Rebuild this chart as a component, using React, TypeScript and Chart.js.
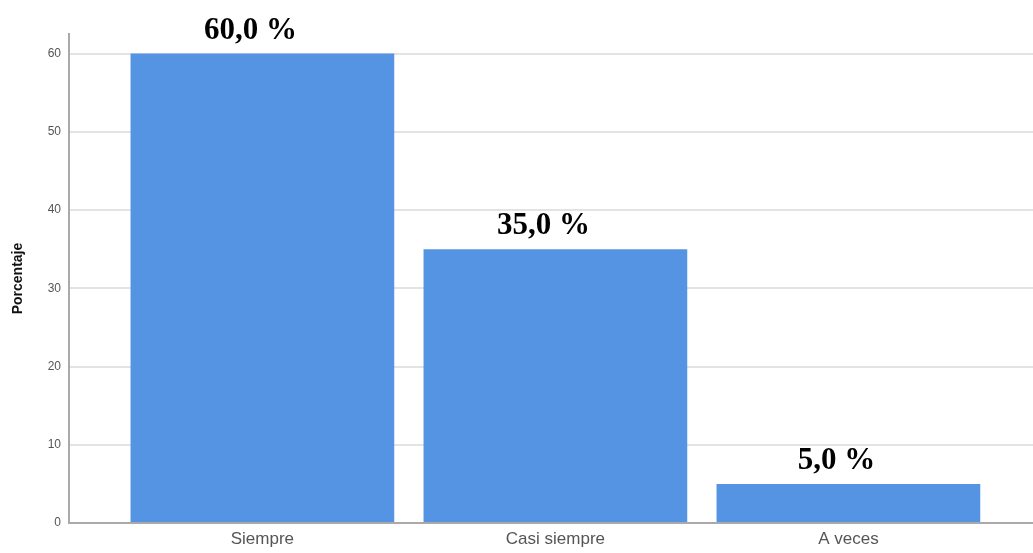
import React, { useEffect, useRef } from "react";
import { Chart, registerables } from "chart.js";

Chart.register(...registerables);

const categories = ["Siempre", "Casi siempre", "A veces"];
const percentages = [60, 35, 5];
const valueLabels = ["60,0 %", "35,0 %", "5,0 %"];
const yTicks = [0, 10, 20, 30, 40, 50, 60];

const labelPlugin = {
  id: "valueLabels",
  afterDatasetsDraw(chart: any) {
    const ctx = chart.ctx;
    const meta = chart.getDatasetMeta(0);
    ctx.save();
    ctx.font = "bold 31px 'Liberation Serif', 'Times New Roman', serif";
    ctx.fillStyle = "#000";
    ctx.textAlign = "center";
    ctx.textBaseline = "alphabetic";
    meta.data.forEach((bar: any, i: number) => {
      ctx.fillText(valueLabels[i], bar.x - 12, bar.y - 15);
    });
    ctx.restore();
  },
};

export default function App() {
  const ref = useRef<HTMLCanvasElement | null>(null);
  useEffect(() => {
    if (!ref.current) return;
    const chart = new Chart(ref.current, {
      type: "bar",
      data: {
        datasets: [
          {
            data: percentages.map((v, i) => ({ x: i, y: v })),
            backgroundColor: "#5593E3",
            borderWidth: 0,
            categoryPercentage: 0.9,
            barPercentage: 1,
          },
        ],
      },
      plugins: [labelPlugin],
      options: {
        responsive: false,
        animation: false,
        layout: { padding: { top: 34, right: 0, left: 0, bottom: 0 } },
        plugins: { legend: { display: false }, tooltip: { enabled: false } },
        scales: {
          x: {
            type: "linear",
            offset: false,
            min: -0.66,
            max: 2.63,
            afterFit: (s: any) => {
              s.height = 30;
            },
            afterBuildTicks: (s: any) => {
              s.ticks = categories.map((_, i) => ({ value: i }));
            },
            ticks: {
              callback: (v: any) => categories[v as number] ?? "",
              font: { family: "'Liberation Sans', Arial, sans-serif", size: 17 },
              color: "#555",
              padding: 6,
              maxRotation: 0,
              autoSkip: false,
            },
            grid: { display: false, drawTicks: false, offset: false },
            border: { display: true, color: "#aaa", width: 2 },
          },
          y: {
            min: 0,
            max: 62.5,
            afterFit: (s: any) => {
              s.width = 69;
            },
            afterBuildTicks: (s: any) => {
              s.ticks = yTicks.map((v) => ({ value: v }));
            },
            ticks: {
              font: { family: "'Liberation Sans', Arial, sans-serif", size: 12 },
              color: "#555",
              padding: 8,
            },
            grid: { color: "#e3e3e3", lineWidth: 2, drawTicks: false },
            border: { display: true, color: "#aaa", width: 2 },
            title: {
              display: true,
              text: "Porcentaje",
              font: { family: "'Liberation Sans', Arial, sans-serif", size: 14, weight: "bold" },
              color: "#111",
              padding: { top: 10, bottom: 0 },
            },
          },
        },
      },
    } as any);
    return () => chart.destroy();
  }, []);
  return (
    <div style={{ position: "fixed", left: 0, top: 0, width: 1033, height: 553, background: "#fff" }}>
      <canvas ref={ref} width={1033} height={553} />
    </div>
  );
}
